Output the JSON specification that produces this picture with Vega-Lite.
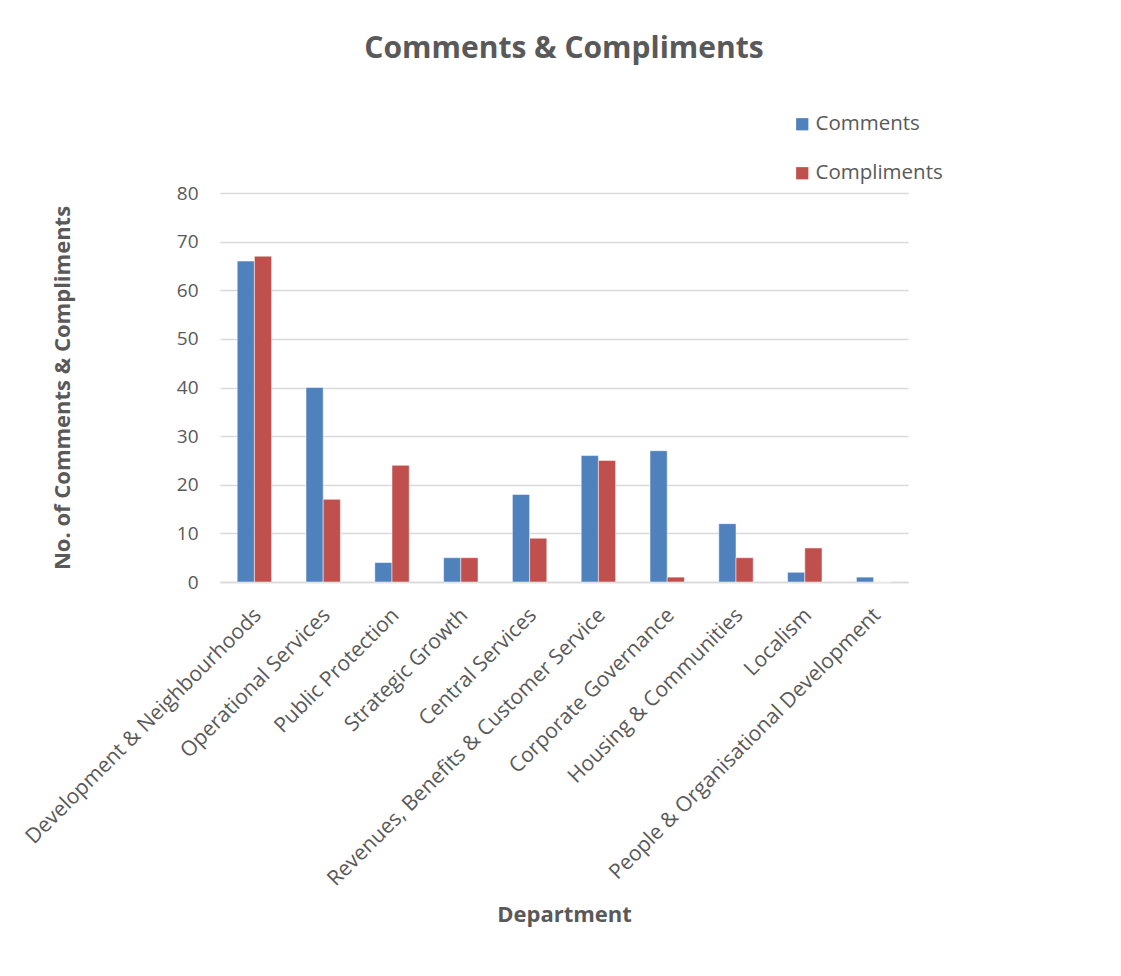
{
  "$schema": "https://vega.github.io/schema/vega-lite/v6.json",
  "width": 688,
  "height": 389,
  "autosize": {"type": "none"},
  "padding": {"left": 220, "top": 193, "right": 213, "bottom": 394},
  "background": "white",
  "title": {
    "text": "Comments & Compliments",
    "font": "Open Sans",
    "fontSize": 30,
    "fontWeight": "bold",
    "color": "#595959",
    "anchor": "middle",
    "frame": "group",
    "offset": 50
  },
  "data": {
    "values": [
      {"Department": "Development & Neighbourhoods", "Series": "Comments", "Count": 66},
      {"Department": "Development & Neighbourhoods", "Series": "Compliments", "Count": 67},
      {"Department": "Operational Services", "Series": "Comments", "Count": 40},
      {"Department": "Operational Services", "Series": "Compliments", "Count": 17},
      {"Department": "Public Protection", "Series": "Comments", "Count": 4},
      {"Department": "Public Protection", "Series": "Compliments", "Count": 24},
      {"Department": "Strategic Growth", "Series": "Comments", "Count": 5},
      {"Department": "Strategic Growth", "Series": "Compliments", "Count": 5},
      {"Department": "Central Services", "Series": "Comments", "Count": 18},
      {"Department": "Central Services", "Series": "Compliments", "Count": 9},
      {"Department": "Revenues, Benefits & Customer Service", "Series": "Comments", "Count": 26},
      {"Department": "Revenues, Benefits & Customer Service", "Series": "Compliments", "Count": 25},
      {"Department": "Corporate Governance", "Series": "Comments", "Count": 27},
      {"Department": "Corporate Governance", "Series": "Compliments", "Count": 1},
      {"Department": "Housing & Communities", "Series": "Comments", "Count": 12},
      {"Department": "Housing & Communities", "Series": "Compliments", "Count": 5},
      {"Department": "Localism", "Series": "Comments", "Count": 2},
      {"Department": "Localism", "Series": "Compliments", "Count": 7},
      {"Department": "People & Organisational Development", "Series": "Comments", "Count": 1},
      {"Department": "People & Organisational Development", "Series": "Compliments", "Count": 0}
    ]
  },
  "mark": {"type": "bar", "stroke": "white", "strokeWidth": 0.5},
  "encoding": {
    "x": {
      "field": "Department",
      "type": "nominal",
      "sort": null,
      "scale": {"paddingInner": 0.5, "paddingOuter": 0.25},
      "axis": {
        "title": "Department",
        "titleFont": "Open Sans",
        "titleFontSize": 22,
        "titleFontWeight": "bold",
        "titleColor": "#595959",
        "titleY": 332,
        "titleBaseline": "middle",
        "labelAngle": -45,
        "labelAlign": "right",
        "labelBaseline": "top",
        "labelFont": "Open Sans",
        "labelFontSize": 21,
        "labelColor": "#595959",
        "labelPadding": 22,
        "labelOffset": -4,
        "labelLimit": 600,
        "labelOverlap": false,
        "ticks": false,
        "domainColor": "#d9d9d9",
        "domainWidth": 1.5
      }
    },
    "xOffset": {"field": "Series", "type": "nominal"},
    "y": {
      "field": "Count",
      "type": "quantitative",
      "scale": {"domain": [0, 80], "nice": false},
      "axis": {
        "title": "No. of Comments & Compliments",
        "titleFont": "Open Sans",
        "titleFontSize": 22,
        "titleFontWeight": "bold",
        "titleColor": "#595959",
        "titleX": -158,
        "titleBaseline": "middle",
        "values": [0, 10, 20, 30, 40, 50, 60, 70, 80],
        "labelOverlap": false,
        "labelFont": "Open Sans",
        "labelFontSize": 19,
        "labelColor": "#595959",
        "labelPadding": 22,
        "ticks": false,
        "domain": false,
        "gridColor": "#d9d9d9",
        "gridWidth": 1.5
      }
    },
    "color": {
      "field": "Series",
      "type": "nominal",
      "scale": {"domain": ["Comments", "Compliments"], "range": ["#4F81BD", "#C0504D"]},
      "legend": {
        "title": null,
        "orient": "none",
        "legendX": 572,
        "legendY": -79,
        "symbolType": "square",
        "symbolSize": 150,
        "symbolStrokeWidth": 0,
        "labelFont": "Open Sans",
        "labelFontSize": 20.5,
        "labelColor": "#595959",
        "labelOffset": 3,
        "rowPadding": 28
      }
    }
  },
  "config": {"view": {"stroke": null}}
}
